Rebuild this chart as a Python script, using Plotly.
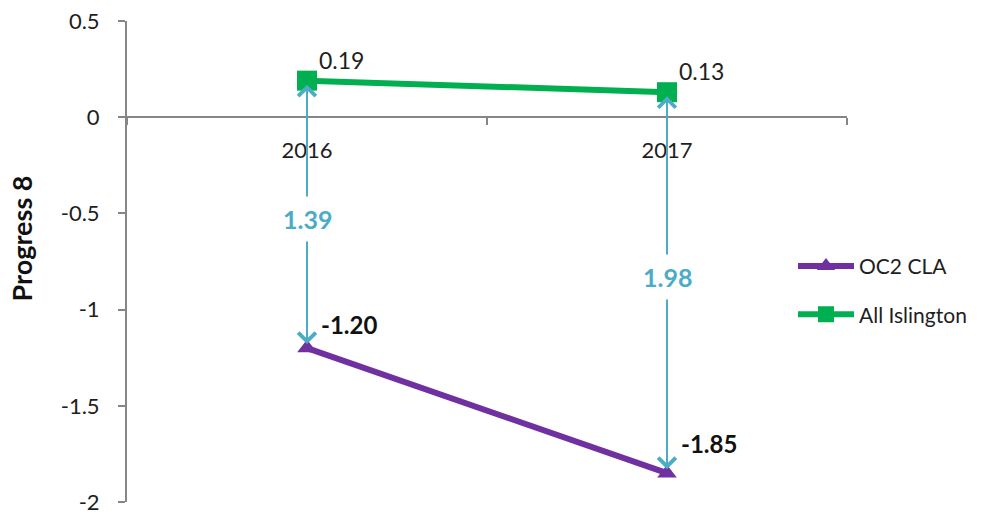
import plotly.graph_objects as go

# Progress 8 scores by year
years = ["2016", "2017"]
oc2_cla = [-1.20, -1.85]
all_islington = [0.19, 0.13]
series_names = ["OC2 CLA", "All Islington"]
y_title = "Progress 8"

y_ticks = [0.5, 0, -0.5, -1, -1.5, -2]
y_tick_text = ["0.5", "0", "-0.5", "-1", "-1.5", "-2"]

PURPLE = "#7030A0"
GREEN = "#00B050"
CYAN = "#4BACC6"
AXIS = "#868686"
TEXT = "#1e1e1e"
FONT = "Lato"

# label placement tweaks (pixels) per year: gap label, lower data label
gap_label_shift = [-5, 6]
low_label_shift = [24, 30]

fig = go.Figure()

fig.add_trace(go.Scatter(
    x=years, y=oc2_cla, name=series_names[0], mode="lines+markers",
    line=dict(color=PURPLE, width=6),
    marker=dict(symbol="triangle-up", size=17, color=PURPLE),
    legendgroup="a",
))
fig.add_trace(go.Scatter(
    x=years, y=all_islington, name=series_names[1], mode="lines+markers",
    line=dict(color=GREEN, width=6),
    marker=dict(symbol="square", size=20, color=GREEN),
    legendgroup="b",
))

arrow_style = dict(
    xref="x", yref="y", axref="x", ayref="y", text="", showarrow=True,
    arrowhead=4, arrowsize=1.7, arrowwidth=2, arrowcolor=CYAN, standoff=4,
)

annotations = []
for i, (lo, hi) in enumerate(zip(oc2_cla, all_islington)):
    mid = (hi + lo) / 2
    # double-headed gap arrow, drawn as two heads pointing out from the middle
    annotations.append(dict(x=i, y=hi, ax=i, ay=mid, **arrow_style))
    annotations.append(dict(x=i, y=lo, ax=i, ay=mid, **arrow_style))
    # gap value label on the arrow
    annotations.append(dict(
        x=i, y=mid, xref="x", yref="y", yshift=gap_label_shift[i],
        text=f"<b>{hi - lo:.2f}</b>", showarrow=False,
        font=dict(family=FONT, size=25, color=CYAN),
        bgcolor="white", borderpad=7,
    ))
    # data labels
    annotations.append(dict(
        x=i, y=hi, xref="x", yref="y", text=f"{hi:.2f}", showarrow=False,
        xanchor="left", yanchor="middle", xshift=10, yshift=21,
        font=dict(family=FONT, size=23, color=TEXT),
    ))
    annotations.append(dict(
        x=i, y=lo, xref="x", yref="y", text=f"<b>{lo:.2f}</b>", showarrow=False,
        xanchor="left", yanchor="middle", xshift=12, yshift=low_label_shift[i],
        font=dict(family=FONT, size=24, color="#111111"),
    ))

# vertical axis title, sitting a little above the middle of the axis
annotations.append(dict(
    x=0, y=0.548, xref="paper", yref="paper", xshift=-106,
    text=f"<b>{y_title}</b>", textangle=-90, showarrow=False,
    xanchor="center", yanchor="middle",
    font=dict(family=FONT, size=27, color="#111111"),
))

fig.update_layout(
    width=983, height=514,
    margin=dict(l=127, r=136, t=21, b=12, autoexpand=False),
    paper_bgcolor="white", plot_bgcolor="white",
    font=dict(family=FONT, size=22, color=TEXT),
    showlegend=True,
    legend=dict(
        x=0.925, y=0.44, xanchor="left", yanchor="middle",
        font=dict(family=FONT, size=21, color=TEXT),
        traceorder="grouped", tracegroupgap=18, itemwidth=56,
        bgcolor="rgba(0,0,0,0)",
    ),
    annotations=annotations,
    xaxis=dict(
        type="category", categoryorder="array", categoryarray=years,
        range=[-0.5, 1.5], anchor="free", position=0.8, automargin=False,
        showline=True, linecolor=AXIS, linewidth=2,
        ticks="outside", tickson="boundaries", ticklen=7, tickwidth=2, tickcolor=AXIS,
        ticklabelstandoff=13,
        showgrid=False, zeroline=False,
        tickfont=dict(family=FONT, size=22, color=TEXT),
    ),
    yaxis=dict(
        range=[-2, 0.5], tickvals=y_ticks, ticktext=y_tick_text, automargin=False,
        showline=True, linecolor=AXIS, linewidth=2,
        ticks="outside", ticklen=7, tickwidth=2, tickcolor=AXIS,
        ticklabelstandoff=14, ticklabeloverflow="allow",
        showgrid=False, zeroline=False,
        tickfont=dict(family=FONT, size=22, color=TEXT),
    ),
)

fig.write_html("out.html")
